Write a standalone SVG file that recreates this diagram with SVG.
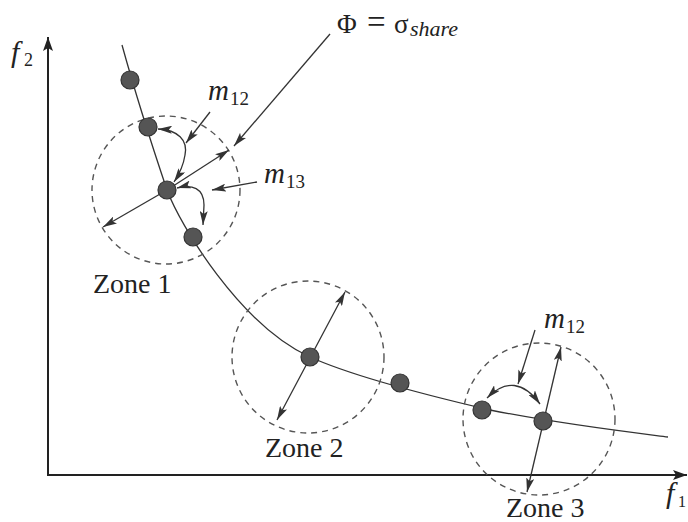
<svg xmlns="http://www.w3.org/2000/svg" width="688" height="522" viewBox="0 0 688 522">
<defs>
<marker id="ah" viewBox="0 0 14 8" refX="14" refY="4" markerWidth="14" markerHeight="8" markerUnits="userSpaceOnUse" orient="auto-start-reverse">
<path d="M0,0 L14,4 L0,8 L3,4 Z" fill="#333"/>
</marker>
<marker id="axh" viewBox="0 0 14 10" refX="14" refY="5" markerWidth="14" markerHeight="10" markerUnits="userSpaceOnUse" orient="auto">
<path d="M0,0 L14,5 L0,10 L3,5 Z" fill="#222"/>
</marker>
</defs>
<style>
.axis{stroke:#222;stroke-width:2;fill:none}
.curve{stroke:#333;stroke-width:1.3;fill:none}
.zone{stroke:#555;stroke-width:1.4;fill:none;stroke-dasharray:6 5}
.arr{stroke:#333;stroke-width:1.3;fill:none;marker-end:url(#ah)}
.darr{stroke:#333;stroke-width:1.3;fill:none;marker-start:url(#ah);marker-end:url(#ah)}
.node{fill:#555;stroke:#333;stroke-width:1.2}
.t{font-family:"Liberation Serif","Times New Roman",serif;fill:#222}
.i{font-style:italic}
</style>
<rect width="688" height="522" fill="#fff"/>
<g id="axes">
<line class="axis" x1="48" y1="476" x2="48" y2="37" marker-end="url(#axh)"/>
<line class="axis" x1="47" y1="475" x2="687" y2="475" marker-end="url(#axh)"/>
<text class="t i" x="11" y="62" font-size="30">f</text><text class="t" x="24" y="66" font-size="18">2</text>
<text class="t i" x="666" y="503" font-size="30">f</text><text class="t" x="678" y="507" font-size="16">1</text>
</g>
<g id="front">
<path class="curve" d="M122,45 Q140,110 167,190 C180,225 240,325 310,357 C350,375 430,396 490,410 C560,424 620,431 668,437"/>
</g>
<g id="zone1">
<circle class="zone" cx="166" cy="190" r="74"/>
<text class="t" x="93" y="293" font-size="28">Zone 1</text>
</g>
<g id="zone2">
<circle class="zone" cx="308" cy="357" r="76"/>
<text class="t" x="265" y="457" font-size="28">Zone 2</text>
</g>
<g id="zone3">
<circle class="zone" cx="539" cy="419" r="76"/>
<text class="t" x="506" y="517" font-size="28">Zone 3</text>
</g>
<g id="connectors">
<line class="arr" x1="167" y1="190" x2="229" y2="150"/>
<line class="arr" x1="167" y1="190" x2="103" y2="227"/>
<line class="arr" x1="330" y1="34" x2="234" y2="146"/>
<path class="darr" d="M158,129 C178,130 188,140 185,155 C183,168 178,176 174,182"/>
<line class="arr" x1="210" y1="112" x2="186" y2="143"/>
<path class="darr" d="M177,188 C192,184 204,188 204,205 L203,225"/>
<line class="arr" x1="257" y1="182" x2="212" y2="190"/>
<line class="darr" x1="277" y1="420" x2="345" y2="292"/>
<line class="darr" x1="527" y1="492" x2="561" y2="347"/>
<path class="darr" d="M487,398 Q515,370 540,404"/>
<line class="arr" x1="535" y1="330" x2="518" y2="384"/>
</g>
<g id="points">
<circle class="node" cx="130" cy="80" r="9"/>
<circle class="node" cx="148" cy="127" r="9"/>
<circle class="node" cx="167" cy="190" r="9"/>
<circle class="node" cx="193" cy="237" r="9"/>
<circle class="node" cx="310" cy="357" r="9"/>
<circle class="node" cx="400" cy="383" r="9"/>
<circle class="node" cx="482" cy="410" r="9"/>
<circle class="node" cx="543" cy="421" r="9"/>
</g>
<g id="labels">
<text class="t" y="33" font-size="27"><tspan x="337">Φ</tspan><tspan x="367" font-size="33">=</tspan><tspan x="394">σ</tspan><tspan class="i" x="410" dy="3" font-size="22">share</tspan></text>
<text class="t i" x="208" y="100" font-size="29">m</text><text class="t" x="230" y="105" font-size="19">12</text>
<text class="t i" x="264" y="183" font-size="29">m</text><text class="t" x="286" y="188" font-size="19">13</text>
<text class="t i" x="544" y="328" font-size="29">m</text><text class="t" x="566" y="333" font-size="19">12</text>
</g>
</svg>
